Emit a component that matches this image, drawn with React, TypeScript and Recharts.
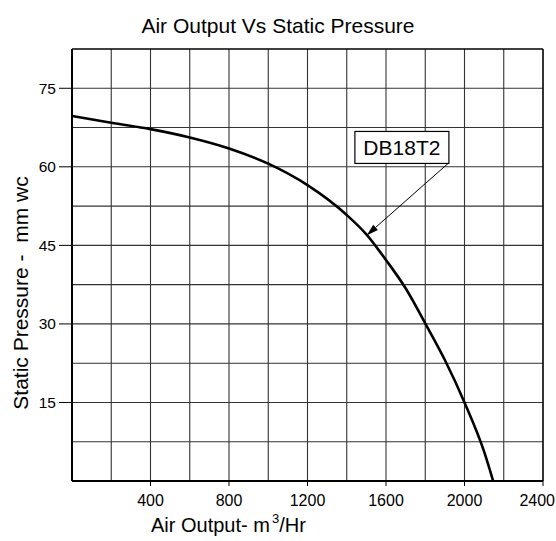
import React from 'react';
import { LineChart, Line, XAxis, YAxis, ReferenceLine, ReferenceDot } from 'recharts';

// curve (m3/hr vs mm wc)
const airOutput = [0, 200, 400, 600, 800, 1000, 1200, 1400, 1500, 1600, 1700, 1800, 1900, 2000, 2100, 2146];
const staticPressure = [69.7, 68.4, 67.2, 65.6, 63.5, 60.6, 56.5, 50.8, 47.1, 42.2, 36.8, 30.1, 23.1, 15.0, 5.6, 0];

const xTicks = [400, 800, 1200, 1600, 2000, 2400];
const yTicks = [15, 30, 45, 60, 75];
const gridX = [200, 400, 600, 800, 1000, 1200, 1400, 1600, 1800, 2000, 2200];
const gridY = [7.5, 15, 22.5, 30, 37.5, 45, 52.5, 60, 67.5, 75];

const seriesName = 'DB18T2';
const labelAt = { x: 1681, y: 63.7 };
const arrowFrom = { x: 1918, y: 60.7 };
const arrowTo = { x: 1501, y: 46.9 };

const data = airOutput.map((x, i) => ({ x, y: staticPressure[i] }));

const font = '"Liberation Sans", Arial, Helvetica, sans-serif';

const Arrow = (props: any) => {
  const { x1, y1, x2, y2 } = props;
  const ang = Math.atan2(y2 - y1, x2 - x1);
  const len = 12;
  const half = 3.5;
  const bx = x2 - len * Math.cos(ang);
  const by = y2 - len * Math.sin(ang);
  const px = -Math.sin(ang) * half;
  const py = Math.cos(ang) * half;
  return (
    <g>
      <line x1={x1} y1={y1} x2={bx} y2={by} stroke="#000" strokeWidth={1} />
      <polygon points={`${x2},${y2} ${bx + px},${by + py} ${bx - px},${by - py}`} fill="#000" />
    </g>
  );
};

const NameBox = (props: any) => {
  const { cx, cy } = props;
  return (
    <g>
      <rect x={cx - 47} y={cy - 16} width={94} height={32} fill="#fff" stroke="#000" strokeWidth={1.2} />
      <text x={cx} y={cy + 7.5} textAnchor="middle" fontSize={21} fontFamily={font} fill="#000">
        {seriesName}
      </text>
    </g>
  );
};

const XTick = (props: any) => {
  const { x, y, payload } = props;
  const last = payload.value === xTicks[xTicks.length - 1];
  return (
    <text x={last ? x + 12 : x} y={y} dy="0.71em" textAnchor={last ? 'end' : 'middle'}
      fontSize={16} fontFamily={font} fill="#000">
      {payload.value}
    </text>
  );
};

const XLabel = (props: any) => {
  const { viewBox } = props;
  const x = viewBox.x + 79;
  const y = viewBox.y + 51;
  return (
    <text x={x} y={y} fontSize={20} fontFamily={font} fill="#000">
      Air Output- m<tspan dx={2} dy={-9} fontSize={13}>3</tspan><tspan dy={9}>/Hr</tspan>
    </text>
  );
};

const YLabel = (props: any) => {
  const { viewBox } = props;
  const x = viewBox.x + 20;
  const y = viewBox.y + viewBox.height / 2 + 28;
  return (
    <text x={x} y={y} transform={`rotate(-90 ${x} ${y})`} textAnchor="middle" dominantBaseline="central"
      fontSize={21} fontFamily={font} fill="#000" style={{ whiteSpace: 'pre' }}>
      {'Static Pressure -  mm wc'}
    </text>
  );
};

export default function App() {
  return (
    <div style={{ position: 'absolute', left: 0, top: 0, width: 556, height: 541, background: '#fff' }}>
      <div style={{ position: 'absolute', left: 0, width: 556, top: 14, textAlign: 'center', fontFamily: font, fontSize: 21, color: '#000' }}>
        Air Output Vs Static Pressure
      </div>
      <LineChart width={556} height={541} data={data} margin={{ top: 49, right: 13, bottom: 0, left: 0 }}>
        {gridX.map((v) => (
          <ReferenceLine key={'gx' + v} x={v} stroke="#333" strokeWidth={1.1} />
        ))}
        {gridY.map((v) => (
          <ReferenceLine key={'gy' + v} y={v} stroke="#333" strokeWidth={1.1} />
        ))}
        <ReferenceLine y={82.5} stroke="#000" strokeWidth={1.6} />
        <ReferenceLine x={2400} stroke="#000" strokeWidth={1.6} />
        <XAxis
          type="number"
          dataKey="x"
          domain={[0, 2400]}
          ticks={xTicks}
          interval={0}
          height={60}
          tickSize={5}
          tickMargin={9}
          axisLine={{ stroke: '#000', strokeWidth: 2 }}
          tickLine={{ stroke: '#000' }}
          tick={<XTick />}
          label={<XLabel />}
        />
        <YAxis
          type="number"
          domain={[0, 82.5]}
          ticks={yTicks}
          interval={0}
          width={72}
          tickSize={13}
          tickMargin={3}
          axisLine={{ stroke: '#000', strokeWidth: 2 }}
          tickLine={{ stroke: '#000' }}
          tick={{ fill: '#000', fontSize: 15.5, fontFamily: font }}
          label={<YLabel />}
          allowDataOverflow
        />
        <Line
          type="monotone"
          dataKey="y"
          stroke="#000"
          strokeWidth={2.6}
          dot={false}
          activeDot={false}
          isAnimationActive={false}
        />
        <ReferenceLine segment={[arrowFrom, arrowTo]} shape={<Arrow />} />
        <ReferenceDot x={labelAt.x} y={labelAt.y} shape={<NameBox />} />
      </LineChart>
    </div>
  );
}
